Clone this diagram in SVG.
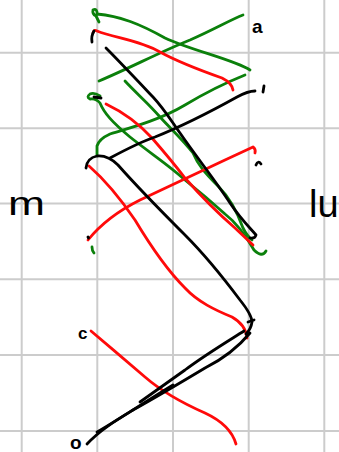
<svg xmlns="http://www.w3.org/2000/svg" width="339" height="452" viewBox="0 0 339 452">
<style>
.grid line{stroke:#cccccc;stroke-width:2}
.s{fill:none;stroke-width:2.8;stroke-linecap:round;stroke-linejoin:round}
.g{stroke:#0b800b}
.r{stroke:#ff0a0a}
.k{stroke:#000000}
.t{font-family:"Liberation Sans",Arial,sans-serif;fill:#000000}
</style>
<rect width="339" height="452" fill="#ffffff"/>
<g id="grid" class="grid">
<line x1="21.7" y1="0" x2="21.7" y2="452"/>
<line x1="97.3" y1="0" x2="97.3" y2="452"/>
<line x1="173" y1="0" x2="173" y2="452"/>
<line x1="248.7" y1="0" x2="248.7" y2="452"/>
<line x1="324.3" y1="0" x2="324.3" y2="452"/>
<line x1="0" y1="52.7" x2="339" y2="52.7"/>
<line x1="0" y1="128.3" x2="339" y2="128.3"/>
<line x1="0" y1="203.5" x2="339" y2="203.5"/>
<line x1="0" y1="279.3" x2="339" y2="279.3"/>
<line x1="0" y1="355" x2="339" y2="355"/>
<line x1="0" y1="431" x2="339" y2="431"/>
</g>
<g id="connectors">
<g id="green">
<path class="s g" d="M99,22 L96,16 Q92,14 93,10 Q96,8 97,12 L97,14 C120,16 140,24 165,38 C190,50 235,60 250,70"/>
<path class="s g" d="M99,81 C130,68 160,52 190,40 C215,29 230,20 243,15"/>
<path class="s g" d="M100,96 Q94,92 90,94 Q86,97 90,99 Q96,98 100,103 C104,113 112,122 130,137 C150,153 170,166 185,180 C200,192 215,205 225,214 C238,224 246,236 254,250 Q262,258 266,251"/>
<path class="s g" d="M125,81 C135,92 150,105 160,117 C170,128 183,140 193,153 C198,165 205,173 218,186 C230,198 238,214 243,228 Q247,236 252,240"/>
<path class="s g" d="M97,155 L97,146 Q99,139 110,134 C130,128 160,120 185,105 C205,93 225,83 245,75"/>
<path class="s g" d="M92,247 Q92,251 94,253"/>
</g>
<g id="red">
<path class="s r" d="M93,33 Q94,29 97,31 C115,38 140,40 160,52 C180,63 205,72 222,78 Q232,83 233,90"/>
<path class="s r" d="M106,104 C125,113 140,125 152,138 C165,153 175,165 185,178 C200,195 220,215 235,228 L253,245"/>
<path class="s r" d="M89,166 C105,180 120,198 135,220 C150,245 165,268 185,288 C198,302 215,310 232,317 Q246,325 247,338"/>
<path class="s r" d="M88,240 C100,225 120,210 140,200 C170,186 200,172 225,160 L253,147 Q256,149 255,153"/>
<path class="s r" d="M91,331 C110,347 125,360 145,377 C160,390 180,402 205,413 C220,420 232,430 236,444"/>
</g>
<g id="black">
<path class="s k" stroke-width="3.4" d="M94,31 Q91,36 92,42"/>
<path class="s k" d="M94,97 L101,98"/>
<path class="s k" d="M106,48 C118,60 135,78 153,97 C165,110 172,122 180,133 C195,155 215,180 230,203 C240,218 250,228 256,235 Q255,239 250,238"/>
<path class="s k" d="M86,168 Q87,158 97,156 Q108,155 118,165 C140,190 165,215 185,235 C205,255 225,280 240,300 Q252,315 252,322 Q251,329 246,334"/>
<path class="s k" d="M248,322 L254,320"/>
<path class="s k" d="M110,158 C125,150 140,142 155,137 C180,127 210,112 237,97 Q248,91 255,91"/>
<path class="s k" d="M244,331 C225,343 205,355 185,370 L140,402"/>
<path class="s k" d="M250,333 C240,345 225,358 205,368 C185,380 160,395 133,410 C115,421 100,430 87,444"/>
<path class="s k" d="M97,432 C115,422 140,405 173,385"/>
<path class="s k" stroke-width="3" d="M264,86 L263,92"/>
<path class="s k" d="M256,165 Q258,160 261,164"/>
<path class="s k" stroke-width="3" d="M88,237 L88.5,238"/>
</g>
</g>
<g id="labels">
<text class="t" x="8" y="215" font-size="34" textLength="37" lengthAdjust="spacingAndGlyphs">m</text>
<text class="t" x="309" y="217" font-size="38">lu</text>
<text class="t" x="252" y="33" font-size="19" font-weight="bold">a</text>
<text class="t" x="78" y="339" font-size="17" font-weight="bold">c</text>
<text class="t" x="70" y="449" font-size="19" font-weight="bold">o</text>
</g>
</svg>
